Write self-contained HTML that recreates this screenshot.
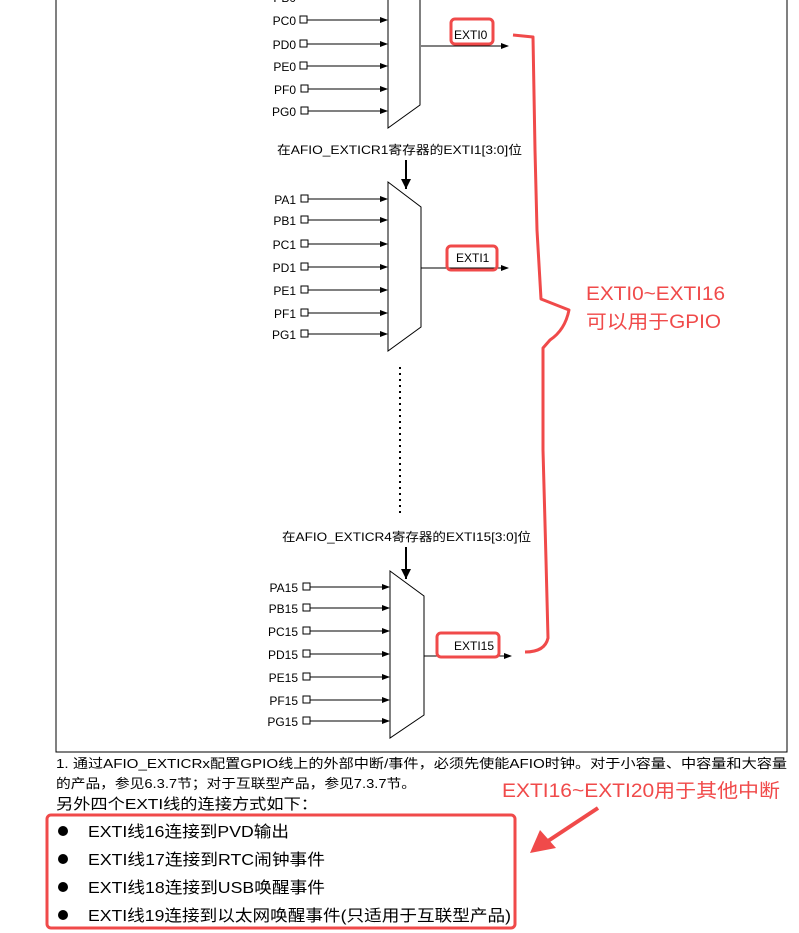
<!DOCTYPE html>
<html><head><meta charset="utf-8"><style>
body{margin:0;background:#fff;width:799px;height:933px;overflow:hidden;}
svg{display:block;font-family:"Liberation Sans","Noto Sans CJK SC",sans-serif;}
</style></head><body>
<svg width="799" height="933" viewBox="0 0 799 933">
<defs><marker id="a" markerWidth="8" markerHeight="8" refX="7" refY="4" orient="auto" markerUnits="userSpaceOnUse"><path d="M0,1 L8,4 L0,7 Z" fill="#000"/></marker>
<marker id="b" markerWidth="10" markerHeight="12" refX="10" refY="5" orient="auto" markerUnits="userSpaceOnUse"><path d="M0,0 L10,5 L0,10 Z" fill="#000"/></marker></defs>
<rect x="56" y="-5" width="731" height="757" fill="none" stroke="#000" stroke-width="1"/>
<g stroke="#000" fill="none" stroke-width="1">
<path d="M388,-2 V128 L420,105 V-2"/>
<path d="M388,182 L421,207 V327 L388,351 Z"/>
<path d="M390,571 L424,596 V715 L390,738 Z"/>
</g>
<g font-size="12" fill="#000" text-anchor="end">
<text x="296" y="2">PB0</text>
<text x="296" y="25">PC0</text><text x="296" y="49">PD0</text><text x="296" y="71">PE0</text><text x="296" y="94">PF0</text><text x="296" y="116">PG0</text>
<text x="296" y="204">PA1</text><text x="296" y="225">PB1</text><text x="296" y="249">PC1</text><text x="296" y="272">PD1</text><text x="296" y="295">PE1</text><text x="296" y="318">PF1</text><text x="296" y="339">PG1</text>
<text x="298" y="592">PA15</text><text x="298" y="613">PB15</text><text x="298" y="636">PC15</text><text x="298" y="659">PD15</text><text x="298" y="682">PE15</text><text x="298" y="705">PF15</text><text x="298" y="726">PG15</text>
</g>
<g stroke="#000" stroke-width="1" fill="#fff">
<rect x="300" y="16" width="7" height="7"/><rect x="300" y="40" width="7" height="7"/><rect x="300" y="62" width="7" height="7"/><rect x="301" y="85" width="7" height="7"/><rect x="301" y="107" width="7" height="7"/>
<rect x="301" y="195" width="7" height="7"/><rect x="301" y="216" width="7" height="7"/><rect x="301" y="240" width="7" height="7"/><rect x="301" y="263" width="7" height="7"/><rect x="301" y="286" width="7" height="7"/><rect x="301" y="309" width="7" height="7"/><rect x="301" y="330" width="7" height="7"/>
<rect x="303" y="583" width="7" height="7"/><rect x="303" y="604" width="7" height="7"/><rect x="303" y="627" width="7" height="7"/><rect x="303" y="650" width="7" height="7"/><rect x="303" y="673" width="7" height="7"/><rect x="303" y="696" width="7" height="7"/><rect x="303" y="717" width="7" height="7"/>
</g>
<g stroke="#000" stroke-width="1" marker-end="url(#a)">
<line x1="307" y1="20" x2="387" y2="20"/><line x1="307" y1="44" x2="387" y2="44"/><line x1="307" y1="66" x2="387" y2="66"/><line x1="308" y1="89" x2="387" y2="89"/><line x1="308" y1="111" x2="387" y2="111"/>
<line x1="308" y1="199" x2="387" y2="199"/><line x1="308" y1="220" x2="387" y2="220"/><line x1="308" y1="244" x2="387" y2="244"/><line x1="308" y1="267" x2="387" y2="267"/><line x1="308" y1="290" x2="387" y2="290"/><line x1="308" y1="313" x2="387" y2="313"/><line x1="308" y1="334" x2="387" y2="334"/>
<line x1="310" y1="587" x2="389" y2="587"/><line x1="310" y1="608" x2="389" y2="608"/><line x1="310" y1="631" x2="389" y2="631"/><line x1="310" y1="654" x2="389" y2="654"/><line x1="310" y1="677" x2="389" y2="677"/><line x1="310" y1="700" x2="389" y2="700"/><line x1="310" y1="721" x2="389" y2="721"/>
<line x1="421" y1="46" x2="508" y2="46"/><line x1="421" y1="268" x2="508" y2="268"/><line x1="424" y1="656" x2="511" y2="656"/>
</g>
<g stroke="#000" stroke-width="2" marker-end="url(#b)">
<line x1="406" y1="160" x2="406" y2="189"/><line x1="406" y1="547" x2="406" y2="579"/>
</g>
<line x1="400" y1="367" x2="400" y2="515" stroke="#000" stroke-width="2" stroke-dasharray="2,4"/>
<g font-size="12" fill="#000">
<text x="454" y="39">EXTI0</text><text x="456" y="262">EXTI1</text><text x="454" y="650">EXTI15</text>
<text x="277" y="154" textLength="245" lengthAdjust="spacingAndGlyphs">在AFIO_EXTICR1寄存器的EXTI1[3:0]位</text>
<text x="282" y="541" textLength="249" lengthAdjust="spacingAndGlyphs">在AFIO_EXTICR4寄存器的EXTI15[3:0]位</text>
</g>
<g stroke="#f04a4a" stroke-width="3" fill="none" stroke-linejoin="round">
<rect x="451" y="19" width="42" height="25" rx="4"/>
<rect x="447" y="246" width="50" height="24" rx="4"/>
<rect x="437" y="633" width="62" height="24" rx="4"/>
<path d="M513,35 L533,37 L535,150 L537,230 L541,299 L569,310 Q565,330 550,340 L543,348 L543,450 L546,560 L548,638 Q545,652 525,652"/>
<rect x="47" y="815" width="468" height="113" rx="4"/>
<line x1="598" y1="808" x2="548" y2="841" stroke-width="4"/>
</g>
<path d="M530,853 L540,830 L556,848 Z" fill="#f04a4a"/>
<g fill="#f04a4a" font-size="19">
<text x="586" y="300" textLength="139" lengthAdjust="spacingAndGlyphs">EXTI0~EXTI16</text>
<text x="586" y="328" textLength="135" lengthAdjust="spacingAndGlyphs">可以用于GPIO</text>
<text x="502" y="797" textLength="278" lengthAdjust="spacingAndGlyphs">EXTI16~EXTI20用于其他中断</text>
</g>
<g fill="#000">
<text x="56" y="768" font-size="13" textLength="731" lengthAdjust="spacingAndGlyphs">1. 通过AFIO_EXTICRx配置GPIO线上的外部中断/事件，必须先使能AFIO时钟。对于小容量、中容量和大容量</text>
<text x="56" y="788" font-size="13" textLength="360" lengthAdjust="spacingAndGlyphs">的产品，参见6.3.7节；对于互联型产品，参见7.3.7节。</text>
<text x="56" y="809" font-size="15" textLength="262" lengthAdjust="spacingAndGlyphs">另外四个EXTI线的连接方式如下：</text>
<g font-size="16">
<circle cx="63" cy="831" r="5"/><text x="88" y="837" textLength="201" lengthAdjust="spacingAndGlyphs">EXTI线16连接到PVD输出</text>
<circle cx="63" cy="859" r="5"/><text x="88" y="865" textLength="237" lengthAdjust="spacingAndGlyphs">EXTI线17连接到RTC闹钟事件</text>
<circle cx="63" cy="887" r="5"/><text x="88" y="893" textLength="237" lengthAdjust="spacingAndGlyphs">EXTI线18连接到USB唤醒事件</text>
<circle cx="63" cy="915" r="5"/><text x="88" y="921" textLength="423" lengthAdjust="spacingAndGlyphs">EXTI线19连接到以太网唤醒事件(只适用于互联型产品)</text>
</g></g>
</svg>
</body></html>
